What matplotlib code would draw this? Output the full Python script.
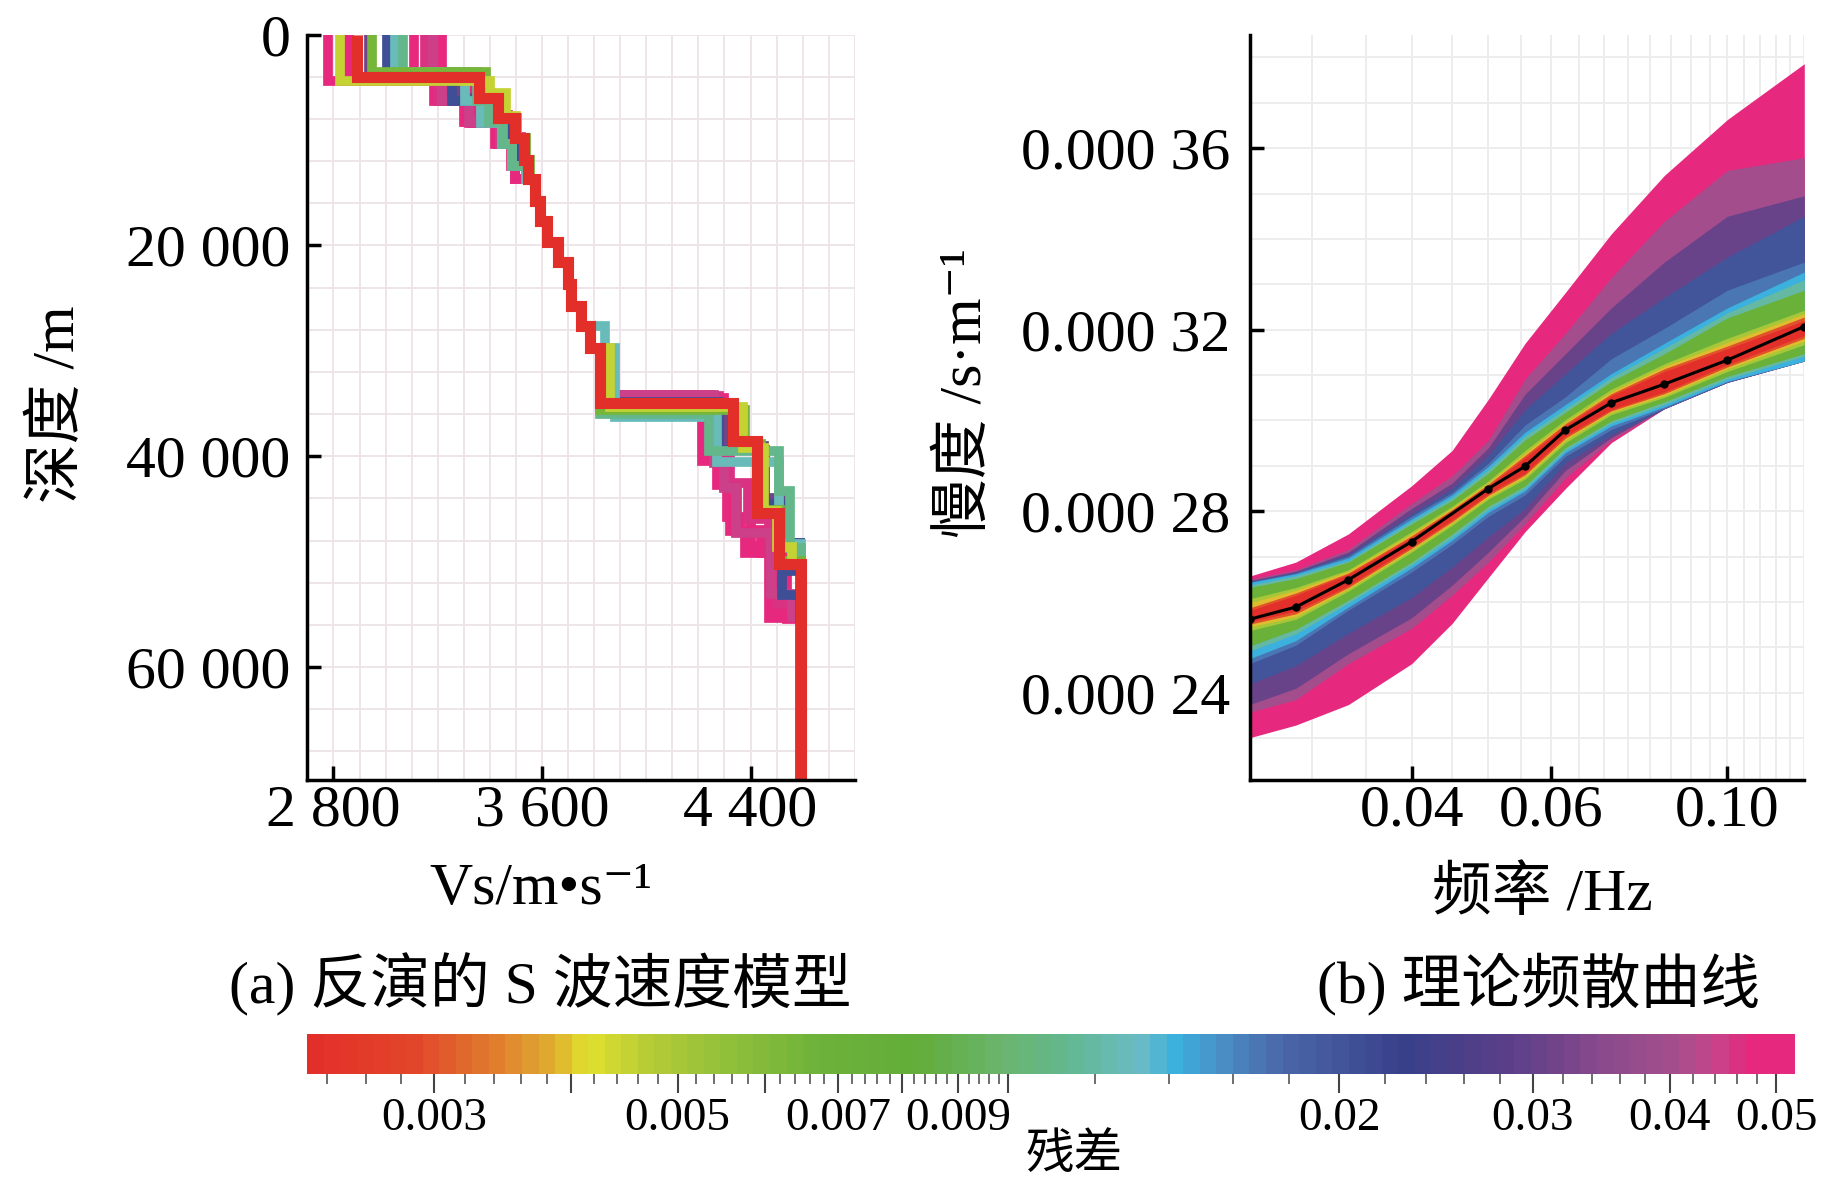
import numpy as np
import matplotlib
matplotlib.use('Agg')
import matplotlib.pyplot as plt
from matplotlib.colors import LinearSegmentedColormap, LogNorm
from matplotlib.ticker import FixedLocator, NullFormatter
import matplotlib.cm as cm

plt.rcParams['font.family'] = ['Liberation Serif', 'Noto Sans CJK SC', 'DejaVu Serif']

# residual colour scale
res_min, res_max = 0.0023, 0.052
cmap_pos = [0.0, 0.067, 0.122, 0.163, 0.184, 0.225, 0.273, 0.342, 0.41, 0.47,
            0.51, 0.56, 0.585, 0.618, 0.658, 0.74, 0.81, 0.877, 0.928, 0.95, 0.975, 1.0]
cmap_hex = ['#e32f2a', '#e2462a', '#e07c2e', '#dfb030', '#e2e02e', '#b8cc36',
            '#95c13a', '#6db23a', '#62ad3a', '#6ab570', '#62b78e', '#6bbcc4',
            '#3bb1de', '#4a8cc4', '#4a66a8', '#38408a', '#5a3f88', '#8a4a8c',
            '#a84e8c', '#c4468a', '#e6287f', '#e6287f']

# ---- (a) S-wave velocity models: layer top depth (m) and Vs (m/s) ----
z_bottom = 70700
mid_top = [13700, 15800, 17700, 19700, 21600, 23700, 25750, 27650, 29700]
mid_vs = [3572, 3593, 3621, 3661, 3698, 3710, 3750, 3784, 3824]

best_res = 0.0023
best_top = [0, 4040, 6000, 7900, 9800, 11850] + mid_top + [34900, 38500, 45400, 50200]
best_vs = [2890, 3360, 3430, 3495, 3532, 3548] + mid_vs + [4332, 4424, 4509, 4595]

yg_res = 0.0045
yg_top = [0, 4400, 5500, 7700, 9800, 11850] + mid_top + [35300, 39200, 45200, 48600, 50300]
yg_vs = [2826, 3400, 3460, 3500, 3535, 3550] + [3572, 3593, 3621, 3661, 3698, 3710, 3750, 3784, 3862] + [4370, 4450, 4500, 4560, 4595]

green_res = 0.0065
green_top = [0, 3500, 5800, 7900, 9800, 11850] + mid_top + [35600, 38800, 45100, 49900]
green_vs = [2949, 3385, 3450, 3505, 3540, 3555] + mid_vs + [4380, 4440, 4515, 4595]

tg_res = 0.0112
tg_top = [0, 3500, 6300, 8300, 10400, 12500] + mid_top + [36000, 39500, 43300, 48700]
tg_vs = [3065, 3350, 3395, 3450, 3485, 3545] + mid_vs + [4240, 4510, 4550, 4595]

teal_res = 0.013
teal_top = [0, 3500, 6300, 8400, 10400, 12500] + mid_top + [36300, 40500, 48300]
teal_vs = [3035, 3303, 3365, 3445, 3485, 3540] + [3572, 3593, 3621, 3661, 3698, 3710, 3750, 3840, 3880] + [4270, 4510, 4595]

blue_res = 0.021
blue_top = [0, 3500, 6300, 8300, 10300, 12500] + mid_top + [34800, 39400, 44500, 48200, 50900, 53200]
blue_vs = [3004, 3254, 3380, 3460, 3520, 3545] + mid_vs + [4280, 4455, 4545, 4590, 4520, 4595]

purple_res = 0.032
purple_top = [0, 3600, 6000, 8000, 10000, 12000] + mid_top + [35000, 39000, 44000, 48200]
purple_vs = [2935, 3280, 3400, 3470, 3525, 3550] + mid_vs + [4310, 4450, 4530, 4590]

pinkA_res = 0.050
pinkA_top = [0, 4400, 6300, 8400, 10400] + mid_top + [34300, 40200, 42700, 47100, 49200, 55300]
pinkA_vs = [2780, 3200, 3320, 3430, 3495] + mid_vs + [4230, 4270, 4320, 4380, 4470, 4595]

pinkB_res = 0.049
pinkB_top = [0, 3500, 6300, 8300, 10400, 12500] + mid_top + [34200, 40300, 42600, 46000, 48500, 54800]
pinkB_vs = [3215, 3230, 3310, 3430, 3490, 3545] + mid_vs + [4250, 4290, 4350, 4400, 4500, 4595]

pinkC_res = 0.048
pinkC_top = [0, 4300, 5800, 7600, 9700, 11850] + mid_top + [34500, 40000, 45800, 47100, 49200, 55000]
pinkC_vs = [2858, 3340, 3410, 3470, 3520, 3548] + mid_vs + [4300, 4310, 4360, 4440, 4520, 4595]

pinkD_res = 0.047
pinkD_top = [0, 3500, 6300, 8300, 10400, 12500] + mid_top + [34400, 40400, 42800, 47000, 49200, 55400]
pinkD_vs = [3110, 3185, 3300, 3420, 3480, 3495] + mid_vs + [4215, 4300, 4340, 4450, 4540, 4595]

pinkE_res = 0.046
pinkE_top = [0, 3500, 6300, 8400, 10400, 12500] + mid_top + [34300, 39800, 42500, 45900, 49000, 54000]
pinkE_vs = [3150, 3200, 3330, 3440, 3490, 3540] + mid_vs + [4280, 4320, 4390, 4470, 4500, 4595]

pinkF_res = 0.045
pinkF_top = [0, 3500, 6300, 8300, 10400, 12500] + mid_top + [34200, 40600, 43000, 47300, 53100, 55200]
pinkF_vs = [3180, 3215, 3320, 3440, 3500, 3545] + mid_vs + [4260, 4300, 4345, 4480, 4560, 4595]

# ---- (b) theoretical dispersion curves: envelopes per residual level (1e-5 s/m) ----
f_band = [0.025, 0.0286, 0.0333, 0.04, 0.045, 0.05, 0.0556, 0.0625, 0.0714, 0.0833, 0.1, 0.125]
band_res = [0.050, 0.040, 0.030, 0.020, 0.017, 0.0144, 0.012, 0.007, 0.005, 0.004, 0.003, 0.0023]
band_up = [
    [26.57, 26.88, 27.50, 28.56, 29.34, 30.47, 31.70, 32.82, 34.11, 35.40, 36.63, 37.86],
    [26.50, 26.71, 27.16, 28.17, 28.78, 29.57, 30.91, 31.92, 33.15, 34.39, 35.51, 35.79],
    [26.47, 26.68, 27.10, 28.06, 28.62, 29.40, 30.58, 31.47, 32.48, 33.49, 34.50, 34.95],
    [26.45, 26.66, 27.05, 27.94, 28.50, 29.23, 30.24, 31.03, 31.92, 32.71, 33.60, 34.50],
    [26.44, 26.64, 27.01, 27.89, 28.41, 29.06, 29.90, 30.52, 31.36, 32.03, 32.87, 33.49],
    [26.43, 26.62, 26.97, 27.83, 28.36, 28.99, 29.74, 30.35, 31.03, 31.70, 32.48, 33.27],
    [26.37, 26.58, 26.91, 27.78, 28.30, 28.92, 29.66, 30.26, 30.95, 31.59, 32.37, 33.10],
    [26.32, 26.52, 26.88, 27.72, 28.24, 28.84, 29.57, 30.18, 30.86, 31.47, 32.26, 32.87],
    [26.07, 26.32, 26.71, 27.55, 28.11, 28.67, 29.34, 30.02, 30.69, 31.25, 31.81, 32.43],
    [25.98, 26.26, 26.68, 27.50, 28.07, 28.63, 29.28, 29.96, 30.63, 31.19, 31.72, 32.35],
    [25.87, 26.20, 26.64, 27.46, 28.04, 28.60, 29.23, 29.93, 30.59, 31.14, 31.64, 32.28],
    [25.81, 26.15, 26.61, 27.42, 28.01, 28.56, 29.18, 29.88, 30.55, 31.08, 31.58, 32.20],
]
band_lo = [
    [23.01, 23.29, 23.74, 24.64, 25.53, 26.54, 27.55, 28.50, 29.51, 30.26, 30.84, 31.31],
    [23.57, 23.85, 24.64, 25.42, 26.15, 26.88, 27.72, 28.73, 29.57, 30.26, 30.84, 31.31],
    [23.74, 24.10, 24.86, 25.65, 26.37, 27.10, 27.89, 28.90, 29.62, 30.26, 30.84, 31.31],
    [24.19, 24.60, 25.31, 26.10, 26.77, 27.44, 28.06, 29.06, 29.68, 30.26, 30.84, 31.31],
    [24.64, 25.05, 25.82, 26.66, 27.27, 27.89, 28.36, 29.21, 29.80, 30.27, 30.85, 31.31],
    [24.75, 25.15, 25.89, 26.75, 27.36, 27.98, 28.45, 29.29, 29.88, 30.30, 30.86, 31.31],
    [24.92, 25.30, 25.98, 26.82, 27.42, 28.04, 28.50, 29.34, 29.94, 30.35, 30.91, 31.42],
    [25.03, 25.40, 26.04, 26.88, 27.50, 28.11, 28.56, 29.40, 29.99, 30.41, 30.97, 31.47],
    [25.37, 25.62, 26.24, 27.10, 27.69, 28.27, 28.71, 29.51, 30.13, 30.51, 31.08, 31.67],
    [25.45, 25.68, 26.29, 27.15, 27.74, 28.31, 28.76, 29.57, 30.18, 30.55, 31.14, 31.75],
    [25.51, 25.74, 26.32, 27.18, 27.77, 28.35, 28.80, 29.61, 30.21, 30.59, 31.18, 31.81],
    [25.56, 25.80, 26.36, 27.22, 27.81, 28.39, 28.84, 29.66, 30.24, 30.63, 31.23, 31.87],
]
f_obs = [0.025, 0.0286, 0.0333, 0.04, 0.05, 0.0556, 0.0625, 0.0714, 0.0833, 0.1, 0.125]
s_obs = [25.62, 25.89, 26.49, 27.33, 28.50, 28.99, 29.79, 30.39, 30.80, 31.33, 32.07]

cb_major = [0.003, 0.004, 0.005, 0.006, 0.007, 0.008, 0.009, 0.01, 0.02, 0.03, 0.04, 0.05]
cb_labels = ['0.003', '', '0.005', '', '0.007', '', '0.009', '', '0.02', '0.03', '0.04', '0.05']


cmap = LinearSegmentedColormap.from_list('resid', list(zip(cmap_pos, cmap_hex))).resampled(90)
norm = LogNorm(res_min, res_max)

fig = plt.figure(figsize=(18.43, 11.83), dpi=100)
axL = fig.add_axes([0.1668, 0.3407, 0.297, 0.630])
axR = fig.add_axes([0.678, 0.3407, 0.301, 0.630])
cax = fig.add_axes([0.1666, 0.0921, 0.8074, 0.0338])

TICK_FS = 43


def step_xy(tops, vs, zmax):
    d = list(tops) + [zmax]
    x = np.repeat(vs, 2)
    y = np.ravel(np.column_stack([d[:-1], d[1:]]))
    return x, y


models = [
    (pinkA_res, pinkA_top, pinkA_vs), (pinkB_res, pinkB_top, pinkB_vs),
    (pinkC_res, pinkC_top, pinkC_vs), (pinkD_res, pinkD_top, pinkD_vs),
    (pinkE_res, pinkE_top, pinkE_vs), (pinkF_res, pinkF_top, pinkF_vs),
    (purple_res, purple_top, purple_vs),
    (blue_res, blue_top, blue_vs), (teal_res, teal_top, teal_vs),
    (tg_res, tg_top, tg_vs), (green_res, green_top, green_vs),
    (yg_res, yg_top, yg_vs),
]
for r, tops, vs in sorted(models, key=lambda m: -m[0]):
    x, y = step_xy(tops, vs, z_bottom)
    axL.plot(x, y, color=cmap(norm(r)), lw=7, solid_joinstyle='miter', solid_capstyle='butt')
x, y = step_xy(best_top, best_vs, z_bottom)
axL.plot(x, y, color=cmap(norm(best_res)), lw=8, solid_joinstyle='miter', solid_capstyle='butt')

axL.set_xlim(2700, 4800)
axL.set_ylim(z_bottom, 0)
axL.set_xticks([2800, 3600, 4400])
axL.set_xticklabels(['2 800', '3 600', '4 400'])
axL.set_yticks([0, 20000, 40000, 60000])
axL.set_yticklabels(['0', '20 000', '40 000', '60 000'])
axL.xaxis.set_minor_locator(FixedLocator(np.arange(2700, 4801, 100)))
axL.yaxis.set_minor_locator(FixedLocator(np.arange(0, 70001, 4000)))
axL.grid(which='both', color='#ede3e8', lw=1.3)
axL.set_axisbelow(True)

# (b)
for r, up, lo in zip(band_res, band_up, band_lo):
    axR.fill_between(f_band, np.array(lo) * 1e-5, np.array(up) * 1e-5,
                     color=cmap(norm(r)), lw=0)
axR.plot(f_obs, np.array(s_obs) * 1e-5, color='black', lw=2.2, marker='o', ms=5)

axR.set_xscale('log')
axR.set_xlim(0.025, 0.125)
axR.set_ylim(0.0002208, 0.000385)
axR.set_xticks([0.04, 0.06, 0.1])
axR.set_xticklabels(['0.04', '0.06', '0.10'])
axR.xaxis.set_minor_locator(FixedLocator(np.arange(0.025, 0.1251, 0.005)))
axR.xaxis.set_minor_formatter(NullFormatter())
axR.set_yticks([0.00024, 0.00028, 0.00032, 0.00036])
axR.set_yticklabels(['0.000 24', '0.000 28', '0.000 32', '0.000 36'])
axR.yaxis.set_minor_locator(FixedLocator(np.arange(0.00022, 0.000386, 0.00001)))
axR.grid(which='both', color='#ececec', lw=1.3)
axR.set_axisbelow(True)

for ax in (axL, axR):
    for s in ('top', 'right'):
        ax.spines[s].set_visible(False)
    for s in ('left', 'bottom'):
        ax.spines[s].set_linewidth(2.5)
    ax.tick_params(which='major', direction='in', length=10, width=2.5, labelsize=TICK_FS)
    ax.tick_params(which='minor', length=0)
    ax.tick_params(axis='x', pad=3)
axL.tick_params(axis='y', pad=12)
axR.tick_params(axis='y', pad=14)

# labels
fig.text(0.2935, 0.248, 'Vs/m•s⁻¹', ha='center', va='center', fontsize=TICK_FS)
fig.text(0.837, 0.243, '频率 /Hz', ha='center', va='center', fontsize=TICK_FS)
fig.text(0.032, 0.658, '深度 /m', ha='center', va='center', rotation=90, fontsize=TICK_FS)
fig.text(0.524, 0.668, '慢度 /s·m⁻¹', ha='center', va='center', rotation=90, fontsize=TICK_FS)
fig.text(0.293, 0.168, '(a) 反演的 S 波速度模型', ha='center', va='center', fontsize=TICK_FS)
fig.text(0.835, 0.168, '(b) 理论频散曲线', ha='center', va='center', fontsize=TICK_FS)

# colorbar
sm = cm.ScalarMappable(norm=norm, cmap=cmap)
cb = fig.colorbar(sm, cax=cax, orientation='horizontal')
cb.outline.set_visible(False)
cb.set_ticks(cb_major, labels=cb_labels)
minor = [t for t in np.arange(0.0024, 0.00999, 0.0002) if abs(t * 1000 - round(t * 1000)) > 1e-6]
minor += [t for t in np.arange(0.012, 0.0499, 0.002) if abs(t * 100 - round(t * 100)) > 1e-6]
cax.xaxis.set_minor_locator(FixedLocator(minor))
cax.xaxis.set_minor_formatter(NullFormatter())
cax.tick_params(which='major', direction='out', length=14, width=1.5, color='#444444',
                labelsize=34, pad=3)
cax.tick_params(which='minor', direction='out', length=7, width=1.2, color='#555555')
fig.text(0.583, 0.004, '残差', ha='center', va='bottom', fontsize=35)

fig.savefig('out.png', dpi=100)
